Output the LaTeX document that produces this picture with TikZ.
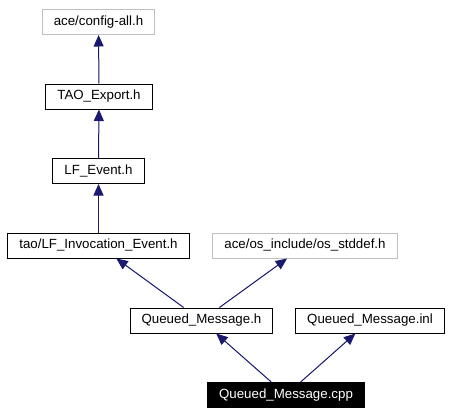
\documentclass[tikz,border=0pt]{standalone}
\usepackage{fontspec}
\setmainfont{Liberation Sans}
\usetikzlibrary{arrows.meta}

\definecolor{medge}{RGB}{25,25,112}
\definecolor{mgray}{RGB}{191,191,191}

\begin{document}
\begin{tikzpicture}[
    x=1pt, y=-1pt,
    font=\fontsize{13.3}{15}\selectfont,
    box/.style={draw=black, line width=1pt, fill=white, inner xsep=11.5pt, inner ysep=0pt, minimum height=25pt, text height=9.6pt, text depth=2.8pt},
    gbox/.style={box, draw=mgray},
    cbox/.style={box, fill=black, text=white},
    dep/.style={-{Triangle[length=11.5pt, width=10pt]}, line width=1pt, draw=medge, fill=medge}
]

\useasboundingbox (0,0) rectangle (450,415);

\node[gbox] (config_all) at (98.5, 22) {ace/config-all.h};
\node[box] (tao_export) at (99, 96.5) {TAO\_Export.h};
\node[box] (lf_event) at (98.5, 171) {LF\_Event.h};
\node[box] (lf_inv) at (98.5, 245.5) {tao/LF\_Invocation\_Event.h};
\node[gbox] (os_stddef) at (305, 245.5) {ace/os\_include/os\_stddef.h};
\node[box] (qm_h) at (201.5, 320.5) {Queued\_Message.h};
\node[box] (qm_inl) at (370, 320.5) {Queued\_Message.inl};
\node[cbox] (qm_cpp) at (286, 395) {Queued\_Message.cpp};

\draw[dep] (tao_export) -- (config_all);
\draw[dep] (lf_event) -- (tao_export);
\draw[dep] (lf_inv) -- (lf_event);
\draw[dep] (qm_h) -- (lf_inv);
\draw[dep] (qm_h) -- (os_stddef);
\draw[dep] (qm_cpp) -- (qm_h);
\draw[dep] (qm_cpp) -- (qm_inl);

\end{tikzpicture}
\end{document}
